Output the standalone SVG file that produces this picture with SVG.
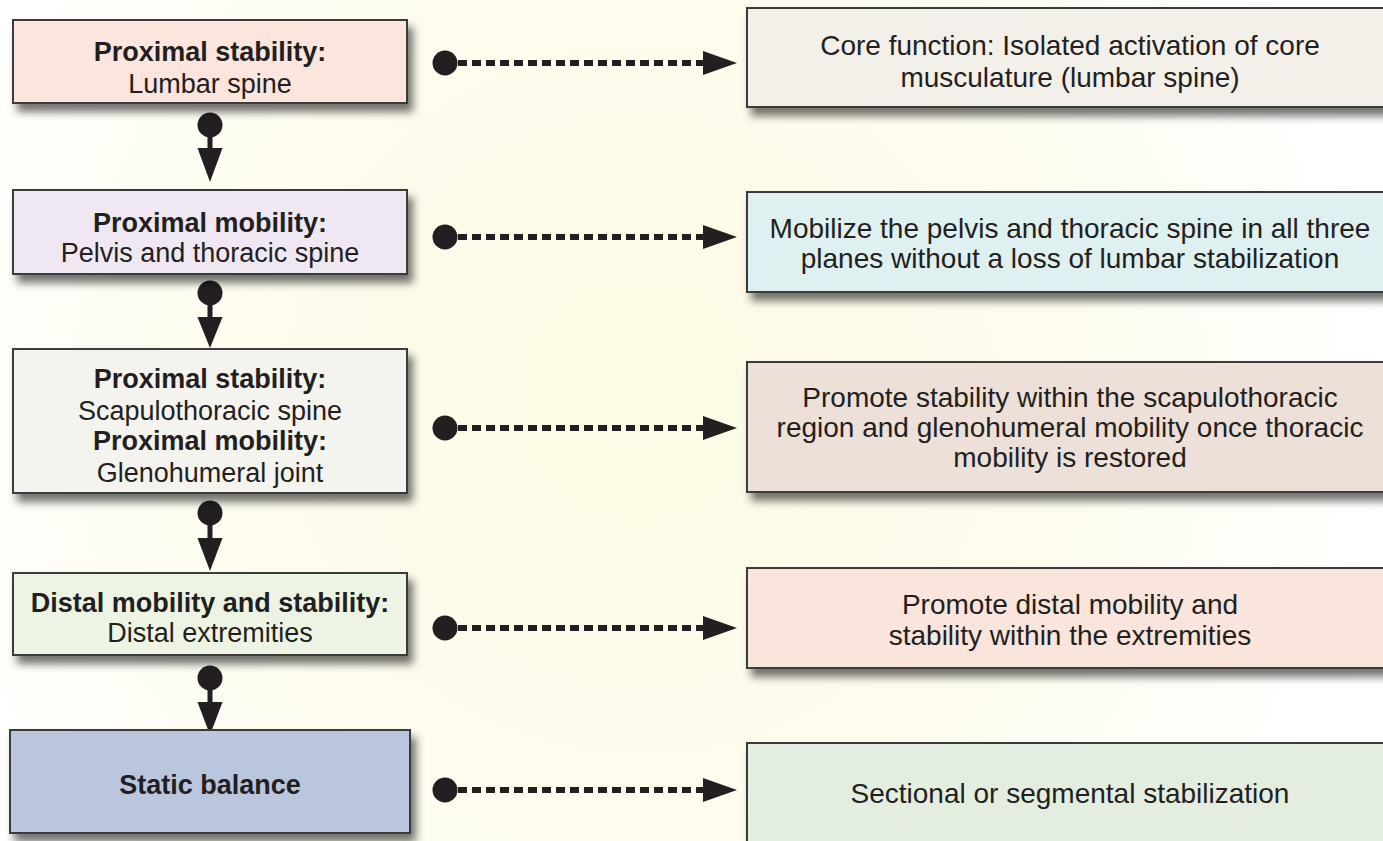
<svg xmlns="http://www.w3.org/2000/svg" width="1383" height="841" viewBox="0 0 1383 841">
<defs>
<radialGradient id="bg" cx="640" cy="400" r="760" gradientUnits="userSpaceOnUse">
<stop offset="0" stop-color="#fdfbe4"/>
<stop offset="0.55" stop-color="#fdfcee"/>
<stop offset="1" stop-color="#ffffff"/>
</radialGradient>
<filter id="sh" x="-10%" y="-20%" width="130%" height="160%">
<feDropShadow dx="5" dy="8" stdDeviation="4" flood-color="#000" flood-opacity="0.55"/>
</filter>
</defs>
<style>
.box{stroke:#3a3a3a;stroke-width:2;filter:url(#sh)}
.t{font-family:"Liberation Sans",Arial,sans-serif;font-size:27px;fill:#231f20;text-anchor:middle}
.b{font-weight:bold}
.r{font-size:28px}
.dash{stroke:#231f20;stroke-width:6;stroke-dasharray:9 5;fill:none}
.ink{fill:#231f20}
</style>
<rect width="1383" height="841" fill="url(#bg)"/>

<g id="connectors">
<g>
<circle class="ink" cx="210" cy="125" r="12.5"/><rect class="ink" x="207.5" y="134" width="5" height="15"/><polygon class="ink" points="197.5,148 222.5,148 210,182"/>
</g>
<g>
<circle class="ink" cx="210" cy="293" r="12.5"/><rect class="ink" x="207.5" y="302" width="5" height="16"/><polygon class="ink" points="197.5,317 222.5,317 210,348"/>
</g>
<g>
<circle class="ink" cx="210" cy="513" r="12.5"/><rect class="ink" x="207.5" y="522" width="5" height="17"/><polygon class="ink" points="197.5,538 222.5,538 210,571"/>
</g>
<g>
<circle class="ink" cx="210" cy="678" r="12.5"/><rect class="ink" x="207.5" y="687" width="5" height="16"/><polygon class="ink" points="197.5,702 222.5,702 210,735"/>
</g>
<g>
<circle class="ink" cx="445" cy="63" r="12.5"/><line class="dash" x1="458" y1="63" x2="705" y2="63"/><polygon class="ink" points="703,51 737,63 703,75"/>
</g>
<g>
<circle class="ink" cx="445" cy="237" r="12.5"/><line class="dash" x1="458" y1="237" x2="705" y2="237"/><polygon class="ink" points="703,225 737,237 703,249"/>
</g>
<g>
<circle class="ink" cx="445" cy="428" r="12.5"/><line class="dash" x1="458" y1="428" x2="705" y2="428"/><polygon class="ink" points="703,416 737,428 703,440"/>
</g>
<g>
<circle class="ink" cx="445" cy="628" r="12.5"/><line class="dash" x1="458" y1="628" x2="705" y2="628"/><polygon class="ink" points="703,616 737,628 703,640"/>
</g>
<g>
<circle class="ink" cx="445" cy="790" r="12.5"/><line class="dash" x1="458" y1="790" x2="705" y2="790"/><polygon class="ink" points="703,778 737,790 703,802"/>
</g>
</g>

<g id="L1">
<rect class="box" x="13" y="20" width="394" height="83" fill="#fbe5dc"/>
<text class="t b" x="210" y="61">Proximal stability:</text>
<text class="t" x="210" y="93">Lumbar spine</text>
</g>
<g id="L2">
<rect class="box" x="13" y="190" width="394" height="84" fill="#efe8f3"/>
<text class="t b" x="210" y="232">Proximal mobility:</text>
<text class="t" x="210" y="262">Pelvis and thoracic spine</text>
</g>
<g id="L3">
<rect class="box" x="13" y="349" width="394" height="144" fill="#f4f3ee"/>
<text class="t b" x="210" y="388">Proximal stability:</text>
<text class="t" x="210" y="420">Scapulothoracic spine</text>
<text class="t b" x="210" y="450">Proximal mobility:</text>
<text class="t" x="210" y="482">Glenohumeral joint</text>
</g>
<g id="L4">
<rect class="box" x="13" y="573" width="394" height="82" fill="#eef4e4"/>
<text class="t b" x="210" y="612">Distal mobility and stability:</text>
<text class="t" x="210" y="642">Distal extremities</text>
</g>
<g id="L5">
<rect class="box" x="10" y="730" width="400" height="103" fill="#b9c6de"/>
<text class="t b" x="210" y="794">Static balance</text>
</g>

<g id="R1">
<rect class="box" x="747" y="8" width="660" height="99" fill="#f3f0ea"/>
<text class="t r" x="1070" y="55">Core function: Isolated activation of core</text>
<text class="t r" x="1070" y="87">musculature (lumbar spine)</text>
</g>
<g id="R2">
<rect class="box" x="747" y="192" width="660" height="100" fill="#dff0f0"/>
<text class="t r" x="1070" y="238">Mobilize the pelvis and thoracic spine in all three</text>
<text class="t r" x="1070" y="268">planes without a loss of lumbar stabilization</text>
</g>
<g id="R3">
<rect class="box" x="747" y="362" width="660" height="130" fill="#ede0d8"/>
<text class="t r" x="1070" y="407">Promote stability within the scapulothoracic</text>
<text class="t r" x="1070" y="437">region and glenohumeral mobility once thoracic</text>
<text class="t r" x="1070" y="467">mobility is restored</text>
</g>
<g id="R4">
<rect class="box" x="747" y="568" width="660" height="100" fill="#f9e5dc"/>
<text class="t r" x="1070" y="614">Promote distal mobility and</text>
<text class="t r" x="1070" y="645">stability within the extremities</text>
</g>
<g id="R5">
<rect class="box" x="747" y="743" width="660" height="130" fill="#e3eee1"/>
<text class="t r" x="1070" y="803">Sectional or segmental stabilization</text>
</g>
</svg>
